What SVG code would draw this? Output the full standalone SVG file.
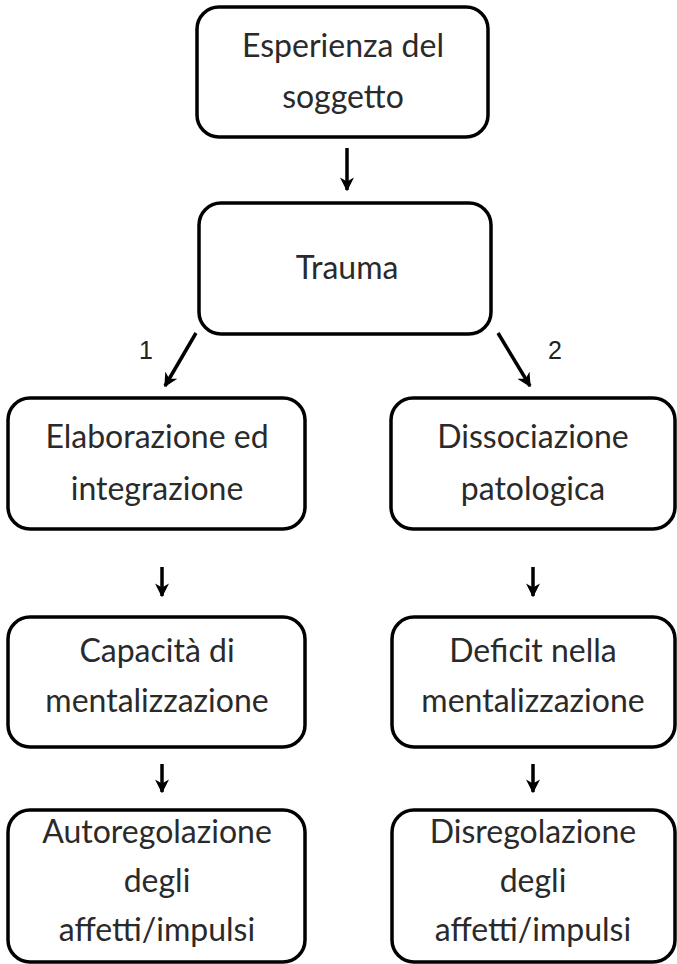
<svg xmlns="http://www.w3.org/2000/svg" width="677" height="964" viewBox="0 0 677 964">
<style>
.box{fill:#fff;stroke:#000;stroke-width:3.5}
.t{font-family:Lato,"Open Sans","Liberation Sans",sans-serif;font-size:32px;fill:#2a2a2a;text-anchor:middle}
.c{stroke:#000;stroke-width:3.5;fill:none}
.n{font-family:"Liberation Sans",Arial,sans-serif;font-size:25px;fill:#222;text-anchor:middle}
</style>
<defs>
<marker id="ah" viewBox="0 0 10 10" refX="9" refY="5" markerWidth="4" markerHeight="4" orient="auto" markerUnits="strokeWidth">
<path d="M0,0 L10,5 L0,10 L3,5 z" fill="#000"/>
</marker>
</defs>
<rect width="677" height="964" fill="#fff"/>
<g id="n1"><rect class="box" x="197" y="7" width="291" height="130" rx="22"/>
<text class="t" x="343" y="57">Esperienza del</text><text class="t" x="343" y="108">soggetto</text></g>
<g id="n2"><rect class="box" x="199" y="203" width="292" height="131" rx="22"/>
<text class="t" x="347" y="279">Trauma</text></g>
<g id="n3"><rect class="box" x="8" y="398" width="297" height="131" rx="22"/>
<text class="t" x="157" y="448">Elaborazione ed</text><text class="t" x="157" y="500">integrazione</text></g>
<g id="n4"><rect class="box" x="391" y="398" width="284" height="131" rx="22"/>
<text class="t" x="533" y="448">Dissociazione</text><text class="t" x="533" y="500">patologica</text></g>
<g id="n5"><rect class="box" x="8" y="617" width="297" height="130" rx="22"/>
<text class="t" x="157" y="662">Capacità di</text><text class="t" x="157" y="712">mentalizzazione</text></g>
<g id="n6"><rect class="box" x="392" y="617" width="283" height="130" rx="22"/>
<text class="t" x="533" y="662">Deficit nella</text><text class="t" x="533" y="712">mentalizzazione</text></g>
<g id="n7"><rect class="box" x="8" y="810" width="297" height="152" rx="22"/>
<text class="t" x="157" y="843">Autoregolazione</text><text class="t" x="157" y="892">degli</text><text class="t" x="157" y="941">affetti/impulsi</text></g>
<g id="n8"><rect class="box" x="392" y="810" width="283" height="152" rx="22"/>
<text class="t" x="533" y="843">Disregolazione</text><text class="t" x="533" y="892">degli</text><text class="t" x="533" y="941">affetti/impulsi</text></g>
<g id="connectors">
<line class="c" x1="347" y1="148" x2="347" y2="190" marker-end="url(#ah)"/>
<line class="c" x1="196" y1="333" x2="165" y2="386" marker-end="url(#ah)"/>
<line class="c" x1="498" y1="333" x2="530" y2="386" marker-end="url(#ah)"/>
<line class="c" x1="162" y1="567" x2="162" y2="596" marker-end="url(#ah)"/>
<line class="c" x1="533" y1="567" x2="533" y2="596" marker-end="url(#ah)"/>
<line class="c" x1="162" y1="764" x2="162" y2="792" marker-end="url(#ah)"/>
<line class="c" x1="533" y1="764" x2="533" y2="792" marker-end="url(#ah)"/>
<text class="n" x="146" y="359">1</text>
<text class="n" x="555" y="359">2</text>
</g>
</svg>
